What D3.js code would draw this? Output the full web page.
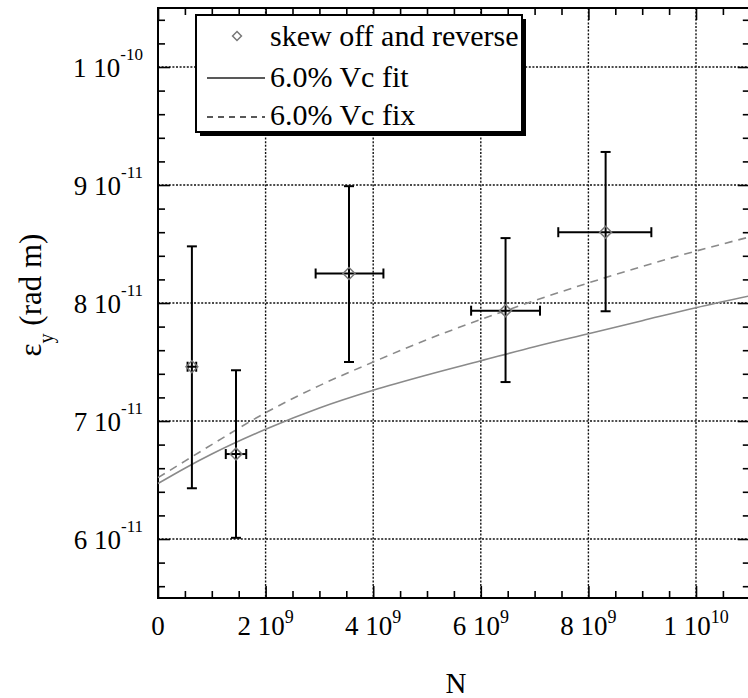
<!DOCTYPE html>
<html><head><meta charset="utf-8">
<script src="https://cdn.jsdelivr.net/npm/d3@7"></script>
<style>body{margin:0;background:#fff}svg{display:block}</style>
</head><body>
<svg id="c" width="748" height="698"></svg>
<script>
// ---- data ----
const pointN    = [6.3e8, 1.45e9, 3.55e9, 6.46e9, 8.32e9];
const pointEps  = [7.46e-11, 6.72e-11, 8.25e-11, 7.935e-11, 8.60e-11];
const epsLow    = [6.43e-11, 6.01e-11, 7.50e-11, 7.33e-11, 7.93e-11];
const epsHigh   = [8.48e-11, 7.43e-11, 8.99e-11, 8.55e-11, 9.28e-11];
const nLow      = [5.5e8, 1.26e9, 2.93e9, 5.82e9, 7.44e9];
const nHigh     = [7.1e8, 1.64e9, 4.19e9, 7.10e9, 9.17e9];
const curveN    = [0, 5e8, 1e9, 2e9, 3e9, 4e9, 5e9, 6e9, 7e9, 8e9, 9e9, 1e10, 1.1e10];
const fitEps    = [6.47e-11, 6.60e-11, 6.72e-11, 6.93e-11, 7.11e-11, 7.26e-11, 7.39e-11, 7.51e-11, 7.63e-11, 7.74e-11, 7.85e-11, 7.96e-11, 8.06e-11];
const fixEps    = [6.52e-11, 6.66e-11, 6.80e-11, 7.07e-11, 7.30e-11, 7.50e-11, 7.69e-11, 7.86e-11, 8.02e-11, 8.17e-11, 8.31e-11, 8.44e-11, 8.56e-11];
const xTickVals = [0, 2e9, 4e9, 6e9, 8e9, 1e10];
const xTickMant = ["0", "2", "4", "6", "8", "1"];
const xTickExp  = ["", "9", "9", "9", "9", "10"];
const yTickVals = [6e-11, 7e-11, 8e-11, 9e-11, 1e-10];
const yTickMant = ["6", "7", "8", "9", "1"];
const yTickExp  = ["-11", "-11", "-11", "-11", "-10"];
const legendLabels = ["skew off and reverse", "6.0% Vc fit", "6.0% Vc fix"];

// ---- layout ----
const L = 158, R = 749.8, T = 8, B = 598;
const FONT = "Liberation Serif, Tinos, DejaVu Serif, serif";
const svg = d3.select("#c");
const x = d3.scaleLinear().domain([0, 1.1e10]).range([L, R]);
const y = d3.scaleLinear().domain([5.5e-11, 1.05e-10]).range([B, T]);

const xMinor = d3.range(0, 22).map(i => i * 5e8).filter(v => !xTickVals.includes(v));
const yMinor = d3.range(0, 25).map(i => 5.6e-11 + i * 2e-12).filter(v => yTickVals.every(t => Math.abs(t - v) > 1e-13) && v < 1.05e-10);

// grid
const grid = svg.append("g").attr("stroke", "#111").attr("stroke-width", 1.4).attr("stroke-dasharray", "2,1.6");
grid.selectAll("line.gx").data(xTickVals.slice(1)).join("line")
  .attr("x1", d => x(d)).attr("x2", d => x(d)).attr("y1", T).attr("y2", B);
grid.selectAll("line.gy").data(yTickVals).join("line")
  .attr("y1", d => y(d)).attr("y2", d => y(d)).attr("x1", L).attr("x2", R);

// axes (ticks inward)
function styleAxis(g) { g.select(".domain").remove(); g.selectAll("line").attr("stroke", "#000").attr("stroke-width", 1.6); g.selectAll("text").remove(); }
svg.append("g").attr("transform", `translate(0,${B})`).call(d3.axisBottom(x).tickValues(xMinor).tickSize(-7)).call(styleAxis);
svg.append("g").attr("transform", `translate(0,${B})`).call(d3.axisBottom(x).tickValues(xTickVals).tickSize(-12)).call(styleAxis);
svg.append("g").attr("transform", `translate(0,${T})`).call(d3.axisTop(x).tickValues(xMinor).tickSize(-7)).call(styleAxis);
svg.append("g").attr("transform", `translate(0,${T})`).call(d3.axisTop(x).tickValues(xTickVals).tickSize(-12)).call(styleAxis);
svg.append("g").attr("transform", `translate(${L},0)`).call(d3.axisLeft(y).tickValues(yMinor).tickSize(-7)).call(styleAxis);
svg.append("g").attr("transform", `translate(${L},0)`).call(d3.axisLeft(y).tickValues(yTickVals).tickSize(-12)).call(styleAxis);
svg.append("g").attr("transform", `translate(${R},0)`).call(d3.axisRight(y).tickValues(yMinor).tickSize(-7)).call(styleAxis);
svg.append("g").attr("transform", `translate(${R},0)`).call(d3.axisRight(y).tickValues(yTickVals).tickSize(-12)).call(styleAxis);

// frame
svg.append("rect").attr("x", L).attr("y", T).attr("width", R - L).attr("height", B - T)
  .attr("fill", "none").attr("stroke", "#000").attr("stroke-width", 2);

// tick labels
const xl = svg.append("g").style("font-family", FONT).attr("fill", "#000");
xTickVals.forEach((v, i) => {
  const t = xl.append("text").attr("x", x(v)).attr("y", B + 37).attr("text-anchor", "middle").attr("font-size", 27);
  if (xTickExp[i] === "") { t.text(xTickMant[i]); return; }
  t.append("tspan").text(xTickMant[i] + " 10");
  t.append("tspan").attr("font-size", 18).attr("dy", -12).text(xTickExp[i]);
});
yTickVals.forEach((v, i) => {
  const t = xl.append("text").attr("x", 143).attr("y", y(v) + 9.5).attr("text-anchor", "end").attr("font-size", 27);
  t.append("tspan").text(yTickMant[i] + " 10");
  t.append("tspan").attr("font-size", 17).attr("dy", -17).text(yTickExp[i]);
});

// axis titles
svg.append("text").attr("x", 456).attr("y", 693).attr("text-anchor", "middle")
  .style("font-family", FONT).attr("font-size", 29).text("N");
const yt = svg.append("text").attr("transform", "translate(41,295) rotate(-90)").attr("text-anchor", "middle")
  .style("font-family", FONT).attr("font-size", 31);
yt.append("tspan").text("ε");
yt.append("tspan").attr("font-size", 20).attr("dy", 12).text("y");
yt.append("tspan").attr("dy", -12).text(" (rad m)");

// curves
const line = d3.line().x(d => x(d[0])).y(d => y(d[1])).curve(d3.curveMonotoneX);
svg.append("path").datum(curveN.map((n, i) => [n, fitEps[i]])).attr("d", line)
  .attr("fill", "none").attr("stroke", "#8a8a8a").attr("stroke-width", 1.6);
svg.append("path").datum(curveN.map((n, i) => [n, fixEps[i]])).attr("d", line)
  .attr("fill", "none").attr("stroke", "#8a8a8a").attr("stroke-width", 1.6).attr("stroke-dasharray", "8,6");

// error bars
const eb = svg.append("g").attr("stroke", "#000").attr("stroke-width", 2);
pointN.forEach((n, i) => {
  const cx = x(n), cy = y(pointEps[i]);
  eb.append("line").attr("x1", cx).attr("x2", cx).attr("y1", y(epsLow[i])).attr("y2", y(epsHigh[i]));
  eb.append("line").attr("x1", cx - 5).attr("x2", cx + 5).attr("y1", y(epsLow[i])).attr("y2", y(epsLow[i]));
  eb.append("line").attr("x1", cx - 5).attr("x2", cx + 5).attr("y1", y(epsHigh[i])).attr("y2", y(epsHigh[i]));
  eb.append("line").attr("x1", x(nLow[i])).attr("x2", x(nHigh[i])).attr("y1", cy).attr("y2", cy);
  eb.append("line").attr("x1", x(nLow[i])).attr("x2", x(nLow[i])).attr("y1", cy - 5).attr("y2", cy + 5);
  eb.append("line").attr("x1", x(nHigh[i])).attr("x2", x(nHigh[i])).attr("y1", cy - 5).attr("y2", cy + 5);
});
const diamond = d3.symbol().type(d3.symbolDiamond2 || d3.symbolSquare2).size(90);
svg.append("g").selectAll("path").data(pointN).join("path")
  .attr("d", diamond).attr("transform", (d, i) => `translate(${x(d)},${y(pointEps[i])})`)
  .attr("fill", "none").attr("stroke", "#777").attr("stroke-width", 1.5);

// legend
const lg = svg.append("g");
lg.append("rect").attr("x", 200).attr("y", 19).attr("width", 326).attr("height", 117).attr("fill", "#000");
lg.append("rect").attr("x", 196).attr("y", 15).attr("width", 326).attr("height", 117)
  .attr("fill", "#fff").attr("stroke", "#000").attr("stroke-width", 2);
lg.append("path").attr("d", d3.symbol().type(d3.symbolDiamond2 || d3.symbolSquare2).size(50))
  .attr("transform", "translate(237,36)").attr("fill", "none").attr("stroke", "#777").attr("stroke-width", 1.5);
lg.append("line").attr("x1", 207).attr("x2", 265).attr("y1", 78).attr("y2", 78).attr("stroke", "#222").attr("stroke-width", 1.6);
lg.append("line").attr("x1", 207).attr("x2", 265).attr("y1", 117).attr("y2", 117).attr("stroke", "#222").attr("stroke-width", 1.6).attr("stroke-dasharray", "6,5");
const lby = [46, 87, 125];
legendLabels.forEach((s, i) => {
  lg.append("text").attr("x", 270).attr("y", lby[i]).style("font-family", FONT).attr("font-size", 30).text(s);
});
</script>
</body></html>
